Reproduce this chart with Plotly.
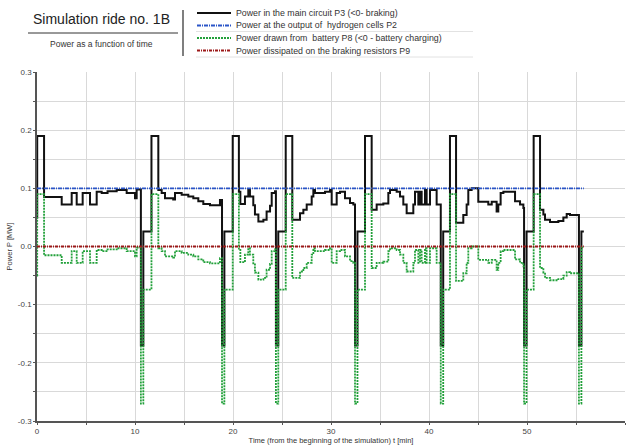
import plotly.graph_objects as go

# ---- data (time in min, power in MW) ----
t_p3 = [0.0, 0.02, 0.72, 2.52, 3.54, 4.05, 4.66, 5.41, 6.09, 6.6, 7.2, 8.13, 9.15, 10.0, 10.17,
        10.6, 10.85, 11.68, 12.38, 12.72, 13.06, 13.9, 14.08, 14.76, 15.44, 15.95, 16.46, 16.97,
        17.65, 18.67, 18.88, 19.12, 19.97, 20.6, 20.75, 21.22, 21.56, 21.73, 22.07, 22.24, 22.59,
        23.1, 23.43, 23.78, 23.95, 24.29, 24.38, 24.62, 25.38, 26.05, 26.84, 27.18, 27.52, 28.03,
        28.2, 28.37, 28.88, 29.39, 29.9, 30.07, 30.58, 30.92, 31.43, 31.94, 32.28, 32.45, 32.7,
        33.47, 34.15, 34.66, 35.34, 35.85, 36.02, 36.7, 37.04, 37.38, 37.72, 38.4, 38.57, 38.91,
        39.08, 39.25, 39.59, 39.76, 40.1, 40.78, 41.2, 41.45, 42.14, 42.76, 43.5, 43.84, 44.01,
        44.35, 45.03, 46.05, 46.4, 46.9, 47.07, 47.31, 47.59, 48.78, 49.29, 49.63, 49.7, 49.95,
        50.68, 51.33, 51.67, 51.84, 52.35, 53.2, 53.71, 54.05, 54.39, 55.3, 55.55, 55.8]
p3 = [0.05, 0.19, 0.085, 0.072, 0.092, 0.072, 0.092, 0.072, 0.094, 0.092, 0.095, 0.097, 0.092, 0.083, 0.098,
      -0.17, 0.026, 0.19, 0.097, 0.092, 0.083, 0.081, 0.092, 0.089, 0.086, 0.083, 0.078, 0.073,
      0.071, 0.080, -0.17, 0.026, 0.19, 0.094, 0.073, 0.086, 0.097, 0.086, 0.071, 0.055, 0.043,
      0.046, 0.060, 0.070, 0.092, 0.095, -0.17, 0.026, 0.19, 0.046, 0.057, 0.063, 0.072, 0.086,
      0.097, 0.092, 0.092, 0.094, 0.097, 0.072, 0.092, 0.094, 0.083, 0.075, 0.072, -0.17, 0.026,
      0.19, 0.063, 0.072, 0.074, 0.092, 0.097, 0.094, 0.086, 0.072, 0.057, 0.072, 0.094, 0.072,
      0.094, 0.072, 0.097, 0.072, 0.097, 0.072, -0.17, 0.026, 0.19, 0.041, 0.054, 0.072, 0.097,
      0.100, 0.077, 0.072, 0.077, 0.060, 0.072, 0.092, 0.094, 0.078, 0.072, 0.066, -0.17, 0.026,
      0.19, 0.063, 0.055, 0.046, 0.042, 0.044, 0.050, 0.056, 0.054, -0.17, 0.026, 0.026]

t_p8 = t_p3
p8 = [-0.05, 0.09, -0.015, -0.028, -0.008, -0.028, -0.008, -0.028, -0.006, -0.008, -0.005, -0.003, -0.008, -0.017, -0.002,
      -0.27, -0.074, 0.09, -0.003, -0.008, -0.017, -0.019, -0.008, -0.011, -0.014, -0.017, -0.022, -0.027,
      -0.029, -0.020, -0.27, -0.074, 0.09, -0.006, -0.027, -0.014, -0.003, -0.014, -0.029, -0.045, -0.057,
      -0.054, -0.040, -0.030, -0.008, -0.005, -0.27, -0.074, 0.09, -0.054, -0.043, -0.037, -0.028, -0.014,
      -0.003, -0.008, -0.008, -0.006, -0.003, -0.028, -0.008, -0.006, -0.017, -0.025, -0.028, -0.27, -0.074,
      0.09, -0.037, -0.028, -0.026, -0.008, -0.003, -0.006, -0.014, -0.028, -0.043, -0.028, -0.006, -0.028,
      -0.006, -0.028, -0.003, -0.028, -0.003, -0.028, -0.27, -0.074, 0.09, -0.059, -0.046, -0.028, -0.003,
      0.000, -0.023, -0.028, -0.023, -0.040, -0.028, -0.008, -0.006, -0.022, -0.028, -0.034, -0.27, -0.074,
      0.09, -0.037, -0.045, -0.054, -0.058, -0.056, -0.050, -0.044, -0.046, -0.27, -0.002, -0.002]

t_p2 = [0.0, 55.8]
p2 = [0.1, 0.1]
t_p9 = [0.0, 55.8]
p9 = [0.0, 0.0]

names = ["Power in the main circuit P3 (<0- braking)",
         "Power at the output of  hydrogen cells P2",
         "Power drawn from  battery P8 (<0 - battery charging)",
         "Power dissipated on the braking resistors P9"]
colors = ["#111111", "#2a55c8", "#22a03a", "#9c1818"]
dashes = ["solid", "4px,1px,1px,1px", "2px,1px", "3px,1px,1px,1px"]

x_ticks = list(range(0, 61, 5))
x_labels = [str(v) if v % 10 == 0 else "" for v in x_ticks]
y_ticks = [-0.3, -0.25, -0.2, -0.15, -0.1, -0.05, 0.0, 0.05, 0.1, 0.15, 0.2, 0.25, 0.3]
y_labels = ["-0.3", "", "-0.2", "", "-0.1", "", "0.0", "", "0.1", "", "0.2", "", "0.3"]

W, H = 628, 448
ML, MR, MT, MB = 37, 3, 72, 27
PW, PH = W - ML - MR, H - MT - MB

def px(x):
    return (x - ML) / PW

def py(y):
    return (H - MB - y) / PH

FONT = "Liberation Sans, Arial, sans-serif"

fig = go.Figure()
series = [(t_p3, p3, 0), (t_p8, p8, 2), (t_p2, p2, 1), (t_p9, p9, 3)]
for tx, vy, i in series:
    fig.add_trace(go.Scatter(x=tx, y=vy, mode="lines", name=names[i], line_shape="hv",
                             line=dict(color=colors[i], width=2 if i == 0 else 1.8, dash=dashes[i]),
                             showlegend=False, hoverinfo="skip"))

shapes = []
annotations = []
# header
annotations.append(dict(text="Simulation ride no. 1B", x=px(101), y=py(19), xref="paper", yref="paper",
                        showarrow=False, font=dict(family=FONT, size=14, color="#222"),
                        xanchor="center", yanchor="middle"))
annotations.append(dict(text="Power as a function of time", x=px(101), y=py(44), xref="paper", yref="paper",
                        showarrow=False, font=dict(family=FONT, size=8.5, color="#333"),
                        xanchor="center", yanchor="middle"))
shapes.append(dict(type="line", xref="paper", yref="paper", x0=px(28), x1=px(178), y0=py(33), y1=py(33),
                   line=dict(color="#333", width=1)))
shapes.append(dict(type="line", xref="paper", yref="paper", x0=px(183), x1=px(183), y0=py(10), y1=py(56),
                   line=dict(color="#555", width=1.5)))
# legend
leg_y = [13, 25.5, 38, 50.5]
for i in range(4):
    shapes.append(dict(type="line", xref="paper", yref="paper", x0=px(197), x1=px(231),
                       y0=py(leg_y[i]), y1=py(leg_y[i]),
                       line=dict(color=colors[i], width=2, dash=dashes[i])))
    annotations.append(dict(text=names[i], x=px(234), y=py(leg_y[i]), xref="paper", yref="paper",
                            showarrow=False, font=dict(family=FONT, size=8.8, color="#333"),
                            xanchor="left", yanchor="middle"))
for yy in [31.5, 57]:
    shapes.append(dict(type="line", xref="paper", yref="paper", x0=px(196), x1=px(473), y0=py(yy), y1=py(yy),
                       line=dict(color="#e2e2e2", width=1)))

fig.update_layout(
    width=W, height=H,
    margin=dict(l=ML, r=MR, t=MT, b=MB, pad=0),
    paper_bgcolor="white", plot_bgcolor="white",
    showlegend=False,
    shapes=shapes, annotations=annotations,
    font=dict(family=FONT, size=8, color="#333"),
    xaxis=dict(range=[0, 60], tickvals=x_ticks, ticktext=x_labels, showgrid=True,
               gridcolor="#d9d9d9", gridwidth=1, zeroline=False, showline=True, linecolor="#555",
               linewidth=1.5, ticks="outside", ticklen=2, tickcolor="#555",
               tickfont=dict(size=8, color="#444"),
               title=dict(text="Time (from the beginning of the simulation) t [min]",
                          font=dict(size=7.5, color="#333"), standoff=2)),
    yaxis=dict(range=[-0.3, 0.3], tickvals=y_ticks, ticktext=y_labels, showgrid=True,
               gridcolor="#d9d9d9", gridwidth=1, zeroline=False, showline=True, linecolor="#555",
               linewidth=1.5, ticks="outside", ticklen=2, tickcolor="#555",
               tickfont=dict(size=8, color="#444"),
               title=dict(text="Power P [MW]", font=dict(size=7.5, color="#333"), standoff=4)),
)

fig.write_html("out.html")
